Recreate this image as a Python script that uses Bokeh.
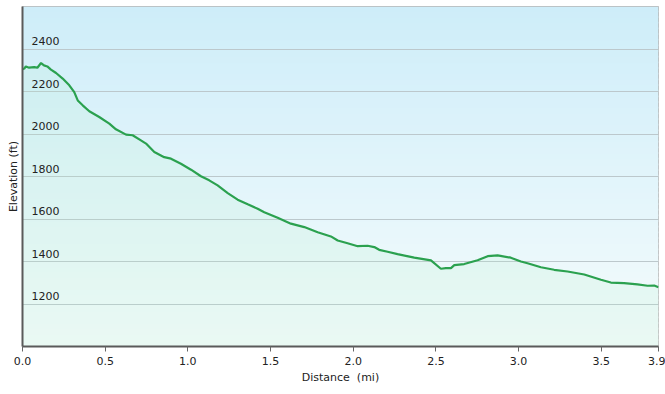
from bokeh.plotting import figure
from bokeh.models import FixedTicker, BoxAnnotation, LabelSet, ColumnDataSource, Range1d
from bokeh.core.properties import value
from bokeh.embed import file_html
from bokeh.resources import INLINE

# ---- data ----
distance_mi = [0.000, 0.011, 0.020, 0.040, 0.070, 0.090, 0.112, 0.130, 0.150, 0.172,
               0.203, 0.243, 0.283, 0.313, 0.334, 0.364, 0.404, 0.464, 0.525, 0.565,
               0.626, 0.666, 0.716, 0.747, 0.797, 0.857, 0.898, 0.958, 1.019, 1.079,
               1.129, 1.180, 1.241, 1.301, 1.362, 1.422, 1.462, 1.543, 1.623, 1.704,
               1.785, 1.865, 1.906, 1.966, 2.027, 2.087, 2.127, 2.157, 2.208, 2.268,
               2.369, 2.470, 2.530, 2.560, 2.591, 2.611, 2.671, 2.752, 2.813, 2.873,
               2.953, 3.014, 3.054, 3.135, 3.215, 3.296, 3.397, 3.498, 3.558, 3.638,
               3.719, 3.780, 3.820, 3.846]
elevation_ft = [2305, 2308, 2318, 2312, 2315, 2312, 2334, 2323, 2318, 2303,
                2287, 2261, 2229, 2197, 2158, 2135, 2107, 2080, 2049, 2022,
                1997, 1994, 1970, 1955, 1915, 1891, 1884, 1860, 1832, 1801,
                1782, 1758, 1722, 1691, 1669, 1648, 1632, 1606, 1578, 1562,
                1538, 1518, 1499, 1486, 1472, 1474, 1468, 1455, 1446, 1435,
                1418, 1405, 1366, 1369, 1369, 1383, 1388, 1406, 1425, 1429,
                1418, 1400, 1392, 1373, 1361, 1353, 1339, 1314, 1301, 1298,
                1292, 1286, 1287, 1279]

x_ticks = [0.0, 0.5, 1.0, 1.5, 2.0, 2.5, 3.0, 3.5, 3.846]
x_tick_labels = ["0.0", "0.5", "1.0", "1.5", "2.0", "2.5", "3.0", "3.5", "3.9"]
y_ticks = [1200, 1400, 1600, 1800, 2000, 2200, 2400]
y_tick_labels = ["1200", "1400", "1600", "1800", "2000", "2200", "2400"]

Y_MIN, Y_MAX = 1000, 2600
X_MIN, X_MAX = 0.0, distance_mi[-1]

FONT = "DejaVu Sans"
FS = "11px"
TXT = "#222222"

p = figure(frame_width=636, frame_height=340,
           x_range=Range1d(X_MIN, X_MAX), y_range=Range1d(Y_MIN, Y_MAX),
           output_backend="svg", toolbar_location=None,
           min_border_left=22, min_border_top=6, min_border_right=7, min_border_bottom=0,
           background_fill_color="#f4fbfd", border_fill_color="white")

# background vertical gradient (light sky blue at top -> near white at bottom)
top_rgb = (206, 237, 249)
bot_rgb = (245, 252, 252)
n_bands = 60
span = Y_MAX - Y_MIN
for i in range(n_bands):
    f = i / (n_bands - 1)
    c = tuple(int(round(bot_rgb[k] + (top_rgb[k] - bot_rgb[k]) * f)) for k in range(3))
    b = Y_MIN + span * i / n_bands
    t = Y_MIN + span * (i + 1.3) / n_bands
    p.add_layout(BoxAnnotation(bottom=b, top=min(t, Y_MAX), fill_color="#%02x%02x%02x" % c,
                               fill_alpha=1.0, line_color=None, level="image"))

src = ColumnDataSource(dict(d=distance_mi, e=elevation_ft))
p.varea(x="d", y1=Y_MIN, y2="e", source=src, fill_color="#b4f0c8", fill_alpha=0.17)
p.line(x="d", y="e", source=src, line_color="#2ba14f", line_width=2.2)

# axes
p.xaxis.ticker = FixedTicker(ticks=x_ticks)
p.xaxis.major_label_overrides = dict(zip(x_ticks, x_tick_labels))
p.xaxis.major_label_standoff = 5
p.xaxis.major_label_text_font = FONT
p.xaxis.major_label_text_font_size = FS
p.xaxis.major_label_text_color = TXT
p.xaxis.major_tick_out = 5
p.xaxis.major_tick_in = 0
p.xaxis.minor_tick_line_color = None
p.xaxis.major_tick_line_color = "#666666"
p.xaxis.axis_line_color = "#5a5a5a"
p.xaxis.axis_line_width = 2
p.xaxis.axis_label = "Distance\u00a0\u00a0(mi)"
p.xaxis.axis_label_standoff = 3
p.xaxis.axis_label_text_font = FONT
p.xaxis.axis_label_text_font_size = FS
p.xaxis.axis_label_text_font_style = "normal"
p.xaxis.axis_label_text_color = TXT

p.yaxis.ticker = FixedTicker(ticks=y_ticks)
p.yaxis.major_label_overrides = {t: "" for t in y_ticks}
p.yaxis.major_label_standoff = 0
p.yaxis.major_tick_out = 0
p.yaxis.major_tick_in = 0
p.yaxis.major_tick_line_color = None
p.yaxis.minor_tick_line_color = None
p.yaxis.axis_line_color = "#5a5a5a"
p.yaxis.axis_line_width = 2
p.yaxis.axis_label = "Elevation (ft)"
p.yaxis.axis_label_standoff = 3
p.yaxis.axis_label_text_font = FONT
p.yaxis.axis_label_text_font_size = FS
p.yaxis.axis_label_text_font_style = "normal"
p.yaxis.axis_label_text_color = TXT

p.xgrid.visible = False
p.ygrid.grid_line_color = "#bcc8cc"
p.ygrid.grid_line_width = 1

p.outline_line_color = "#b4b4b4"
p.outline_line_width = 1

# y tick labels drawn inside the plot, above their gridlines
yl_src = ColumnDataSource(dict(x=[X_MIN] * len(y_ticks), y=y_ticks, t=y_tick_labels))
p.add_layout(LabelSet(x="x", y="y", text="t", source=yl_src, text_align="left",
                      text_baseline="alphabetic", x_offset=9, y_offset=4,
                      text_font=value(FONT), text_font_size=value(FS), text_color=TXT))

open("out.html", "w").write(file_html(p, INLINE))
